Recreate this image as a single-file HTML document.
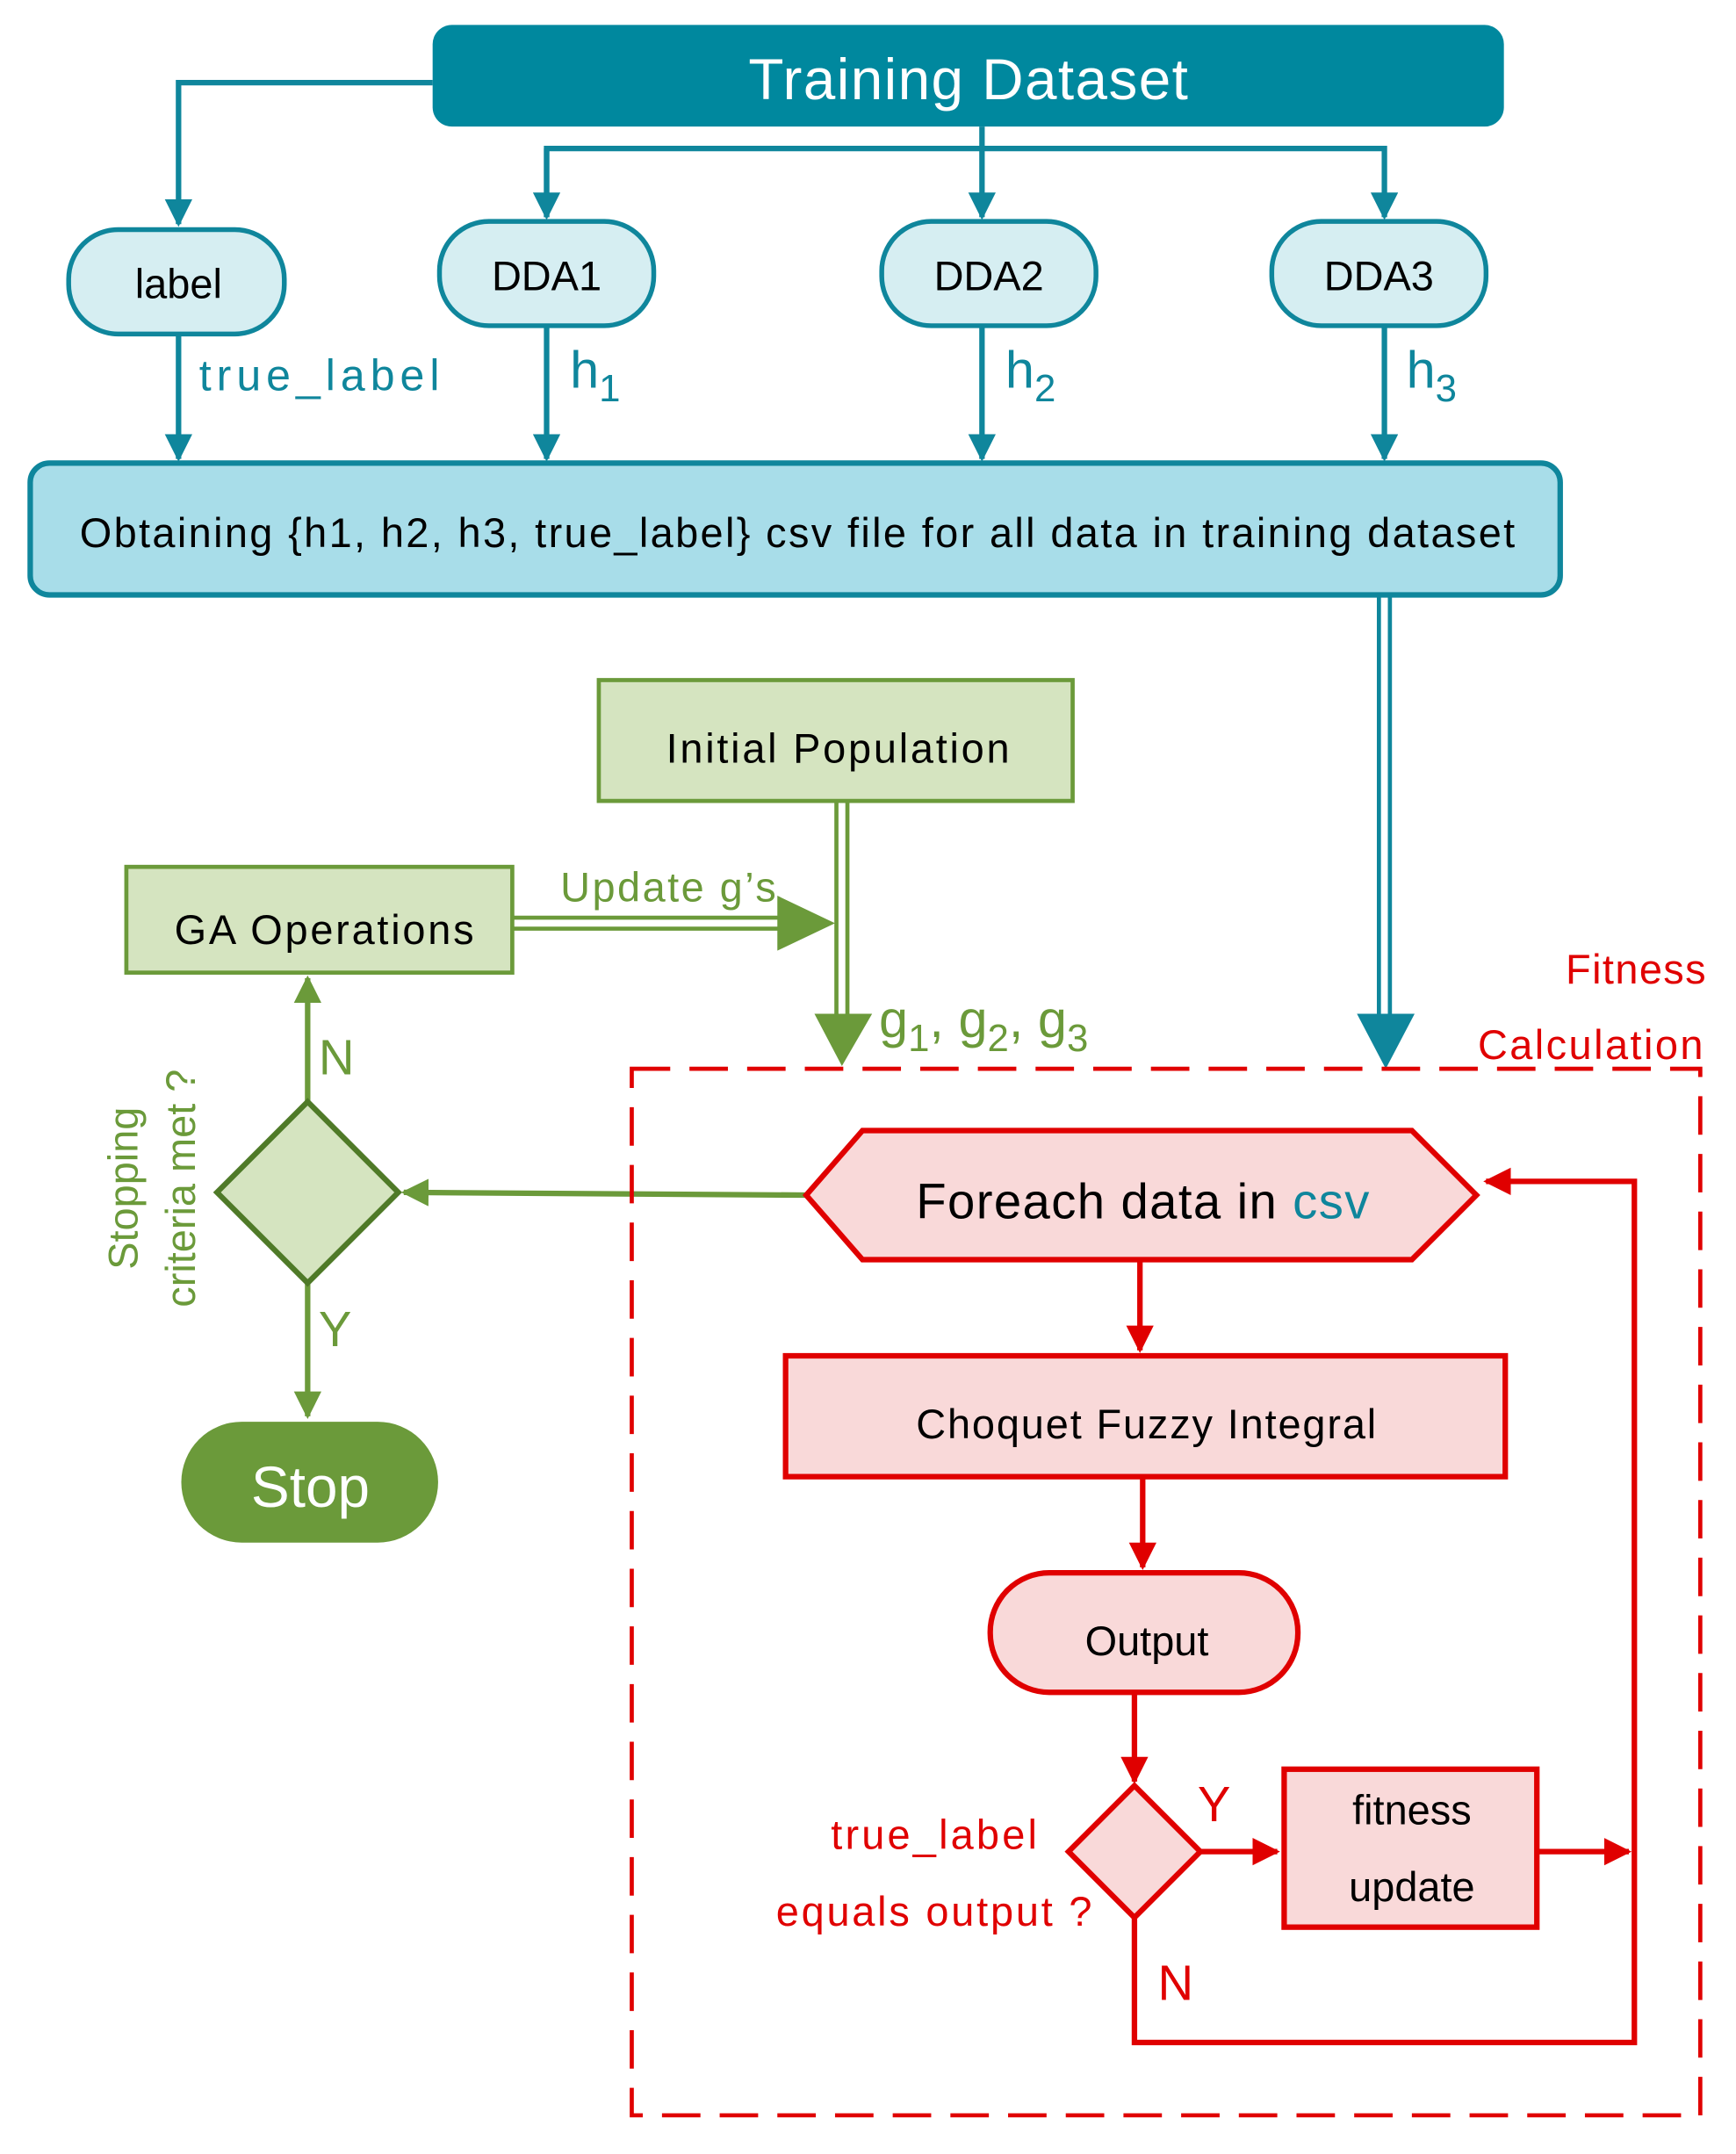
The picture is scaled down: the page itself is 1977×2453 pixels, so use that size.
<!DOCTYPE html>
<html><head><meta charset="utf-8"><style>
html,body{margin:0;padding:0;background:#fff}
svg{display:block}
text{font-family:"Liberation Sans",sans-serif}
</style></head><body>
<svg width="1977" height="2453" viewBox="0 0 1264 1568" xmlns="http://www.w3.org/2000/svg">
<defs>
<marker id="at" viewBox="0 0 10 10" refX="9" refY="5" markerWidth="5" markerHeight="5" orient="auto" markerUnits="strokeWidth"><path d="M0,0L10,5L0,10z" fill="#0F869C"/></marker>
<marker id="ag" viewBox="0 0 10 10" refX="9" refY="5" markerWidth="5" markerHeight="5" orient="auto" markerUnits="strokeWidth"><path d="M0,0L10,5L0,10z" fill="#6B9A3A"/></marker>
<marker id="ar" viewBox="0 0 10 10" refX="9" refY="5" markerWidth="5" markerHeight="5" orient="auto" markerUnits="strokeWidth"><path d="M0,0L10,5L0,10z" fill="#E00000"/></marker>
</defs>
<rect x="315" y="18" width="780" height="74" rx="14" fill="#00889E"/>
<text x="705" y="72" font-size="42" fill="#fff" text-anchor="middle" textLength="320" lengthAdjust="spacing">Training Dataset</text>
<g stroke="#0F869C" stroke-width="4" fill="none">
<polyline points="315,60 130,60 130,163" marker-end="url(#at)"/>
<line x1="715" y1="92" x2="715" y2="158" marker-end="url(#at)"/>
<polyline points="398,158 398,108 1008,108 1008,158" marker-end="url(#at)"/>
<line x1="398" y1="108" x2="398" y2="158" marker-end="url(#at)"/>
<line x1="130" y1="243" x2="130" y2="334" marker-end="url(#at)"/>
<line x1="398" y1="237" x2="398" y2="334" marker-end="url(#at)"/>
<line x1="715" y1="237" x2="715" y2="334" marker-end="url(#at)"/>
<line x1="1008" y1="237" x2="1008" y2="334" marker-end="url(#at)"/>
</g>
<g fill="#D6EEF2" stroke="#0F869C" stroke-width="3.5">
<rect x="50" y="167" width="157" height="76" rx="36"/>
<rect x="320" y="161" width="156" height="76" rx="36"/>
<rect x="642" y="161" width="156" height="76" rx="36"/>
<rect x="926" y="161" width="156" height="76" rx="36"/>
</g>
<g font-size="30" fill="#000" text-anchor="middle">
<text x="130" y="217">label</text>
<text x="398" y="211">DDA1</text>
<text x="720" y="211">DDA2</text>
<text x="1004" y="211">DDA3</text>
</g>
<g fill="#0F869C">
<text x="145" y="284" font-size="32" textLength="175" lengthAdjust="spacing">true_label</text>
<text x="415" y="282" font-size="38">h<tspan font-size="28" dy="10">1</tspan></text>
<text x="732" y="282" font-size="38">h<tspan font-size="28" dy="10">2</tspan></text>
<text x="1024" y="282" font-size="38">h<tspan font-size="28" dy="10">3</tspan></text>
</g>
<rect x="22" y="337" width="1114" height="96" rx="14" fill="#A8DDE9" stroke="#0F869C" stroke-width="4"/>
<text x="58" y="398" font-size="30" textLength="1045" lengthAdjust="spacing">Obtaining {h1, h2, h3, true_label} csv file for all data in training dataset</text>
<g stroke="#0F869C" stroke-width="3">
<line x1="1004" y1="433" x2="1004" y2="750"/><line x1="1012" y1="433" x2="1012" y2="750"/>
</g>
<path d="M988,738L1030,738L1009,778z" fill="#0F869C"/>
<rect x="436" y="495" width="345" height="88" fill="#D5E4C0" stroke="#6B9A3A" stroke-width="3"/>
<text x="485" y="555" font-size="30" textLength="250" lengthAdjust="spacing">Initial Population</text>
<rect x="92" y="631" width="281" height="77" fill="#D5E4C0" stroke="#6B9A3A" stroke-width="3"/>
<text x="127" y="687" font-size="30" textLength="218" lengthAdjust="spacing">GA Operations</text>
<g stroke="#6B9A3A" stroke-width="3">
<line x1="609" y1="583" x2="609" y2="745"/><line x1="617" y1="583" x2="617" y2="745"/>
<line x1="373" y1="668" x2="575" y2="668"/><line x1="373" y1="676" x2="575" y2="676"/>
</g>
<path d="M593,738L635,738L613,776z" fill="#6B9A3A"/>
<path d="M566,652L608,672L566,692z" fill="#6B9A3A"/>
<text x="408" y="656" font-size="30" fill="#6B9A3A" textLength="157" lengthAdjust="spacing">Update g’s</text>
<text x="640" y="755" font-size="38" fill="#6B9A3A">g<tspan font-size="28" dy="10">1</tspan><tspan dy="-10">, g</tspan><tspan font-size="28" dy="10">2</tspan><tspan dy="-10">, g</tspan><tspan font-size="28" dy="10">3</tspan></text>
<g stroke="#6B9A3A" stroke-width="4" fill="none">
<line x1="587" y1="870" x2="294" y2="868" marker-end="url(#ag)"/>
<line x1="224" y1="802" x2="224" y2="712" marker-end="url(#ag)"/>
<line x1="224" y1="934" x2="224" y2="1031" marker-end="url(#ag)"/>
</g>
<polygon points="224,802 290,868 224,934 158,868" fill="#D5E4C0" stroke="#4F7A28" stroke-width="4"/>
<text x="232" y="782" font-size="36" fill="#6B9A3A">N</text>
<text x="232" y="980" font-size="36" fill="#6B9A3A">Y</text>
<rect x="132" y="1035" width="187" height="88" rx="44" fill="#6B9A3A"/>
<text x="226" y="1097" font-size="42" fill="#fff" text-anchor="middle">Stop</text>
<g fill="#6B9A3A" font-size="30" text-anchor="middle">
<text transform="translate(100,865) rotate(-90)">Stopping</text>
<text transform="translate(142,865) rotate(-90)">criteria met ?</text>
</g>
<rect x="460" y="778" width="778" height="762" fill="none" stroke="#E00000" stroke-width="3" stroke-dasharray="28,14"/>
<text x="1140" y="716" font-size="30" fill="#E00000" textLength="102" lengthAdjust="spacing">Fitness</text>
<text x="1076" y="771" font-size="30" fill="#E00000" textLength="164" lengthAdjust="spacing">Calculation</text>
<polygon points="587,870 628,823 1028,823 1075,870 1028,917 628,917" fill="#F9D9D9" stroke="#E00000" stroke-width="4"/>
<text x="667" y="887" font-size="36" textLength="330" lengthAdjust="spacing">Foreach data in <tspan fill="#0F869C">csv</tspan></text>
<g stroke="#E00000" stroke-width="4" fill="none">
<line x1="830" y1="917" x2="830" y2="983" marker-end="url(#ar)"/>
<line x1="832" y1="1075" x2="832" y2="1141" marker-end="url(#ar)"/>
<line x1="826" y1="1232" x2="826" y2="1297" marker-end="url(#ar)"/>
<line x1="874" y1="1348" x2="930" y2="1348" marker-end="url(#ar)"/>
<line x1="1119" y1="1348" x2="1186" y2="1348" marker-end="url(#ar)"/>
<polyline points="826,1396 826,1487 1190,1487 1190,860 1082,860" marker-end="url(#ar)"/>
</g>
<rect x="572" y="987" width="524" height="88" fill="#F9D9D9" stroke="#E00000" stroke-width="4"/>
<text x="667" y="1047" font-size="30" textLength="335" lengthAdjust="spacing">Choquet Fuzzy Integral</text>
<rect x="721" y="1145" width="224" height="87" rx="43" fill="#F9D9D9" stroke="#E00000" stroke-width="4"/>
<text x="835" y="1205" font-size="30" text-anchor="middle">Output</text>
<polygon points="826,1300 874,1348 826,1396 778,1348" fill="#F9D9D9" stroke="#E00000" stroke-width="4"/>
<rect x="935" y="1288" width="184" height="115" fill="#F9D9D9" stroke="#E00000" stroke-width="4"/>
<text x="1028" y="1328" font-size="30" text-anchor="middle">fitness</text>
<text x="1028" y="1384" font-size="30" text-anchor="middle">update</text>
<text x="872" y="1326" font-size="36" fill="#E00000">Y</text>
<text x="843" y="1456" font-size="36" fill="#E00000">N</text>
<text x="605" y="1346" font-size="30" fill="#E00000" textLength="150" lengthAdjust="spacing">true_label</text>
<text x="565" y="1402" font-size="30" fill="#E00000" textLength="230" lengthAdjust="spacing">equals output ?</text>
</svg>
</body></html>
